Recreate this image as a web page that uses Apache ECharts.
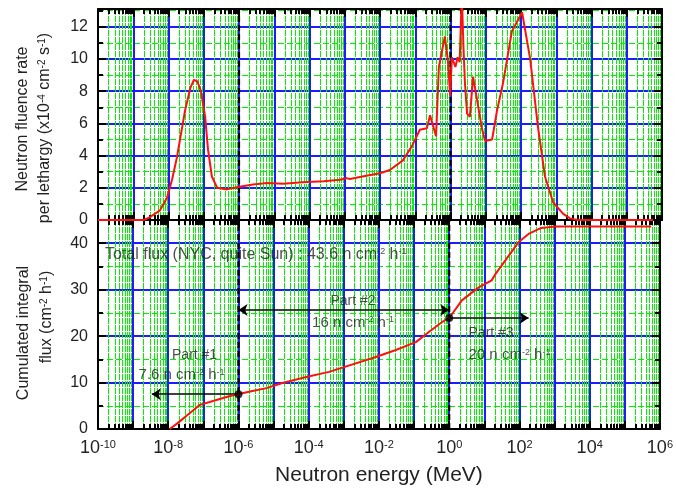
<!DOCTYPE html>
<html>
<head>
<meta charset="utf-8">
<script src="https://cdn.jsdelivr.net/npm/echarts@6/dist/echarts.min.js"></script>
<style>
  html, body { margin: 0; padding: 0; background: #fff; }
  #chart { width: 676px; height: 488px; }
</style>
</head>
<body>
<div id="chart"></div>
<script>
// energies are read as log10(E / MeV) off the picture
const fluenceLogE = [-10, -8.7, -8.55, -8.24, -8.04, -7.9, -7.76, -7.53, -7.38, -7.28, -7.18, -7.08, -6.96, -6.88, -6.77, -6.62, -6.34, -6.03, -5.6, -5.2, -4.75, -4.2, -3.6, -3.13, -2.95, -2.85, -2.5, -2.0, -1.72, -1.35, -1.09, -0.87, -0.67, -0.58, -0.41, -0.33, -0.16, -0.07, -0.01, 0.04, 0.14, 0.2, 0.26, 0.32, 0.37, 0.41, 0.47, 0.55, 0.64, 0.75, 0.89, 0.98, 1.18, 1.32, 1.49, 1.74, 2.03, 2.26, 2.48, 2.68, 2.91, 3.19, 3.39, 3.6, 5.75];
const fluenceRate = [0, 0, 0.15, 0.6, 1.4, 2.5, 3.9, 6.8, 8.2, 8.7, 8.6, 8.0, 6.4, 4.4, 2.7, 2.0, 1.9, 2.05, 2.2, 2.3, 2.25, 2.35, 2.4, 2.5, 2.6, 2.55, 2.7, 2.9, 3.1, 3.7, 4.6, 5.6, 5.7, 6.5, 5.2, 9.5, 11.4, 9.8, 7.7, 10.1, 9.5, 10.1, 9.8, 14, 10.6, 8.5, 6.6, 6.4, 8.9, 7.5, 5.7, 4.9, 5.0, 6.8, 8.5, 11.7, 12.9, 10.0, 5.8, 2.7, 1.1, 0.4, 0.1, 0, 0];

const cumLogE = [-7.96, -7.76, -7.55, -7.39, -7.1, -6.82, -6.34, -6.03, -5.6, -5.2, -4.75, -4.07, -3.42, -3.13, -2.09, -1.52, -0.95, -0.58, -0.21, 0, 0.36, 0.84, 1.21, 1.32, 1.6, 1.97, 2.26, 2.62, 3.02, 5.75];
const cumFlux = [0, 1.1, 2.4, 3.4, 5.2, 5.8, 6.9, 7.5, 8.2, 8.8, 9.9, 11.2, 12.3, 13.0, 15.5, 17.0, 18.7, 20.9, 23.0, 23.9, 27.7, 30.5, 32.0, 33.4, 36.3, 40.2, 42.0, 43.3, 43.6, 43.6];

const partBounds = [1e-6, 1];           // dashed separators (MeV)
const partDots = [[1e-6, 7.5], [1, 23.9]];
const part1Arrow = [[1e-6, 7.5], [3.4e-9, 7.5]];
const part2Arrow = [[1e-6, 25.6], [1, 25.6]];
const part3Arrow = [[1, 23.9], [182, 23.9]];

const xTickExp = [-10, -8, -6, -4, -2, 0, 2, 4, 6];
const topMax = 13.1;
const bottomMax = 45;

const chart = echarts.init(document.getElementById('chart'));

const BLUE = '#1c1cff';
const GREEN = '#00f000';
const FONT = 'Liberation Sans, Arial, sans-serif';

const fluenceData = fluenceLogE.map((e, i) => [Math.pow(10, e), fluenceRate[i]]);
const cumData = cumLogE.map((e, i) => [Math.pow(10, e), cumFlux[i]]);

const supRich = {
  b: { fontSize: 18, color: '#222', fontFamily: FONT },
  s: { fontSize: 11, color: '#222', fontFamily: FONT, verticalAlign: 'top', padding: [0, 0, 8, 0] }
};

function xAxisBase(gridIndex, pos, labels) {
  return {
    type: 'log',
    logBase: 10,
    gridIndex: gridIndex,
    position: pos,
    min: 1e-10,
    max: 1e6,
    interval: 1,
    axisLine: { show: true, onZero: false, lineStyle: { color: '#000', width: 2 } },
    axisTick: { show: true, inside: true, length: 8, lineStyle: { color: '#000', width: 2 } },
    minorTick: { show: true, splitNumber: 9, length: 5, lineStyle: { color: '#000', width: 2 } },
    splitLine: { show: labels !== null, lineStyle: { color: BLUE, width: 2 } },
    minorSplitLine: { show: labels !== null, lineStyle: { color: GREEN, width: 1, type: [6, 1] } },
    axisLabel: labels ? {
      show: true,
      margin: 10,
      rich: supRich,
      formatter: function (v) {
        const e = Math.round(Math.log10(v));
        if (xTickExp.indexOf(e) < 0) return '';
        return '{b|10}{s|' + e + '}';
      }
    } : { show: false }
  };
}

function yAxisBase(gridIndex, pos, max, interval, main) {
  return {
    type: 'value',
    gridIndex: gridIndex,
    position: pos,
    min: 0,
    max: max,
    interval: interval,
    axisLine: { show: true, lineStyle: { color: '#000', width: 2 } },
    axisTick: { show: true, inside: true, length: 8, lineStyle: { color: '#000', width: 2 } },
    minorTick: { show: true, splitNumber: 2, length: 5, lineStyle: { color: '#000', width: 2 } },
    splitLine: { show: main, lineStyle: { color: BLUE, width: 2 } },
    minorSplitLine: { show: main, lineStyle: { color: GREEN, width: 1, type: [6, 3] } },
    axisLabel: main ? {
      show: true, margin: 10, fontSize: 16, color: '#222', fontFamily: FONT, showMaxLabel: false
    } : { show: false }
  };
}

const noteRich = {
  t: { fontSize: 15, color: '#222', fontFamily: FONT },
  T: { fontSize: 16, color: '#222', fontFamily: FONT },
  p: { fontSize: 14, color: '#222', fontFamily: FONT },
  s: { fontSize: 9, color: '#222', fontFamily: FONT, verticalAlign: 'top', padding: [0, 0, 6, 0] }
};
const unitTxt = function (n) { return '{t|' + n + ' n cm}{s|-2}{t| h}{s|-1}'; };

function note(x, y, text, pos) {
  return {
    value: [x, y],
    label: { show: true, position: pos, distance: 0, formatter: text, rich: noteRich, align: pos === 'right' ? 'left' : 'center' }
  };
}

const arrowStyle = { color: '#000', width: 1.5, type: 'solid' };
function arrowLine(pts, startSym) {
  return [
    { coord: pts[0], symbol: startSym, symbolSize: 9, lineStyle: arrowStyle },
    { coord: pts[1], symbol: 'arrow', symbolSize: 9 }
  ];
}

// vertical dashed part boundaries, drawn as plain line series in each panel
function separator(xi, yi, e, max) {
  return {
    type: 'line',
    xAxisIndex: xi,
    yAxisIndex: yi,
    data: [[e, 0], [e, max]],
    showSymbol: false,
    silent: true,
    z: 4,
    lineStyle: { color: '#000', type: [6, 3], width: 2.2 }
  };
}

chart.setOption({
  animation: false,
  backgroundColor: '#fff',
  grid: [
    { left: 98, right: 14, top: 9, height: 211 },
    { left: 98, right: 14, top: 220, height: 209 }
  ],
  xAxis: [
    xAxisBase(0, 'bottom', false),
    xAxisBase(0, 'top', null),
    Object.assign(xAxisBase(1, 'bottom', true), {
      name: 'Neutron energy (MeV)',
      nameLocation: 'middle',
      nameGap: 36,
      nameTextStyle: { fontSize: 21, color: '#222', fontFamily: FONT }
    }),
    xAxisBase(1, 'top', null)
  ],
  yAxis: [
    yAxisBase(0, 'left', topMax, 2, true),
    yAxisBase(0, 'right', topMax, 2, false),
    yAxisBase(1, 'left', bottomMax, 10, true),
    yAxisBase(1, 'right', bottomMax, 10, false)
  ],
  graphic: [
    {
      type: 'text', x: 23, y: 119, rotation: Math.PI / 2,
      style: { text: 'Neutron fluence rate', fontSize: 16, fontFamily: FONT, fill: '#222', align: 'center', verticalAlign: 'middle' }
    },
    {
      type: 'text', x: 45, y: 128, rotation: Math.PI / 2,
      style: {
        text: '{t|per lethargy (x10}{s|-4}{t| cm}{s|-2}{t| s}{s|-1}{t|)}',
        rich: {
          t: { fontSize: 16, fontFamily: FONT, fill: '#222' },
          s: { fontSize: 10, fontFamily: FONT, fill: '#222', verticalAlign: 'top', padding: [0, 0, 6, 0] }
        },
        align: 'center', verticalAlign: 'middle'
      }
    },
    {
      type: 'text', x: 24, y: 333, rotation: Math.PI / 2,
      style: { text: 'Cumulated integral', fontSize: 16, fontFamily: FONT, fill: '#222', align: 'center', verticalAlign: 'middle' }
    },
    {
      type: 'text', x: 47, y: 317, rotation: Math.PI / 2,
      style: {
        text: '{t|flux (cm}{s|-2}{t| h}{s|-1}{t|)}',
        rich: {
          t: { fontSize: 16, fontFamily: FONT, fill: '#222' },
          s: { fontSize: 10, fontFamily: FONT, fill: '#222', verticalAlign: 'top', padding: [0, 0, 6, 0] }
        },
        align: 'center', verticalAlign: 'middle'
      }
    }
  ],
  series: [
    separator(0, 0, partBounds[0], topMax),
    separator(0, 0, partBounds[1], topMax),
    separator(2, 2, partBounds[0], bottomMax),
    separator(2, 2, partBounds[1], bottomMax),
    {
      name: 'fluence',
      type: 'line',
      xAxisIndex: 0,
      yAxisIndex: 0,
      data: fluenceData,
      showSymbol: false,
      z: 5,
      lineStyle: { color: '#ff1010', width: 2 }
    },
    {
      name: 'cumulated',
      type: 'line',
      xAxisIndex: 2,
      yAxisIndex: 2,
      data: cumData,
      showSymbol: false,
      z: 5,
      lineStyle: { color: '#ff1010', width: 2 },
      markLine: {
        silent: true,
        label: { show: false },
        data: [
          arrowLine(part1Arrow, 'none'),
          arrowLine(part2Arrow, 'arrow'),
          arrowLine(part3Arrow, 'none')
        ]
      }
    },
    {
      name: 'dots',
      type: 'scatter',
      xAxisIndex: 2,
      yAxisIndex: 2,
      symbolSize: 8,
      z: 6,
      itemStyle: { color: '#000' },
      data: partDots
    },
    {
      name: 'notes',
      type: 'scatter',
      xAxisIndex: 2,
      yAxisIndex: 2,
      symbolSize: 0,
      silent: true,
      z: 7,
      data: [
        note(Math.pow(10, -9.8), 37.5, '{T|Total flux (NYC, quite Sun) : 43.6 n cm}{s|-2}{T| h}{s|-1}', 'right'),
        note(Math.pow(10, -7.25), 15.8, '{p|Part #1}', 'inside'),
        note(Math.pow(10, -7.62), 11.6, unitTxt('7.6'), 'inside'),
        note(Math.pow(10, -2.74), 27.6, '{p|Part #2}', 'inside'),
        note(Math.pow(10, -2.74), 22.9, unitTxt('16'), 'inside'),
        note(Math.pow(10, 0.55), 20.7, '{p|Part #3}', 'right'),
        note(Math.pow(10, 0.55), 15.9, unitTxt('20'), 'right')
      ]
    }
  ]
});
</script>
</body>
</html>
